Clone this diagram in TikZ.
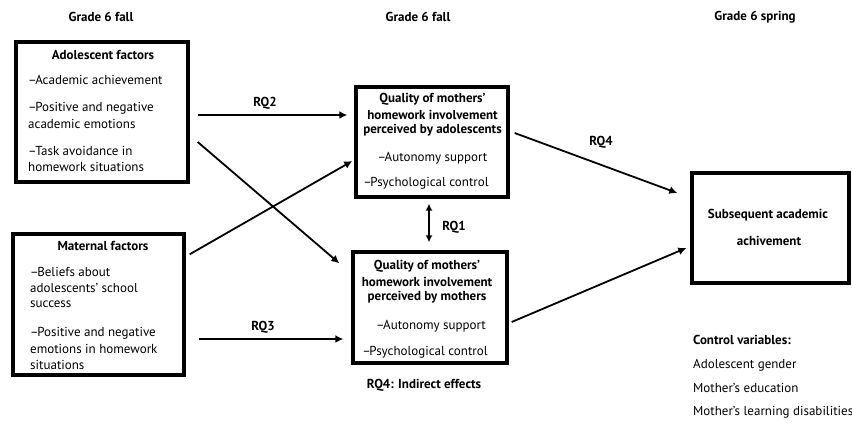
\documentclass[tikz,border=0pt]{standalone}
\usepackage{fontspec}
\setmainfont{PT Sans}
\usetikzlibrary{arrows.meta,calc}
\newcommand{\dsh}{–\kern-1.5pt}
\begin{document}
\begin{tikzpicture}[x=1pt,y=-1pt,
  box/.style={draw, line width=3.4pt, inner sep=0pt},
  conn/.style={line width=1.8pt, -{Latex[length=8pt,width=8pt]}},
  dconn/.style={line width=1.8pt, {Latex[length=7pt,width=7pt]}-{Latex[length=7pt,width=7pt]}},
  hd/.style={font=\fontsize{13}{15}\selectfont\bfseries, inner sep=0pt},
  tt/.style={font=\fontsize{13}{15}\selectfont\bfseries, inner sep=0pt},
  tx/.style={font=\fontsize{13}{15}\selectfont, inner sep=0pt},
  lb/.style={font=\fontsize{13}{15}\selectfont\bfseries, inner sep=0pt}]
\useasboundingbox (0,0) rectangle (852,425);
% headers
\node[hd] (h1) at (101,17) {Grade 6 fall};
\node[hd] (h2) at (418,17) {Grade 6 fall};
\node[hd] (h3) at (755,17) {Grade 6 spring};
% boxes
\node[box, minimum width=172pt, minimum height=140pt] (adol) at (102,112) {};
\node[box, minimum width=171pt, minimum height=141pt] (mat) at (98.5,304.5) {};
\node[box, minimum width=152pt, minimum height=110pt] (qa) at (432,142) {};
\node[box, minimum width=154pt, minimum height=111pt] (qm) at (430,307.5) {};
\node[box, minimum width=157pt, minimum height=110pt] (sub) at (770.5,228) {};
% box 1 text
\node[tt] (a0) at (103,55) {Adolescent factors};
\node[tx,anchor=west] (a1) at (28,80) {\dsh Academic achievement};
\node[tx,anchor=west] (a2) at (28,108) {\dsh Positive and negative};
\node[tx,anchor=west] (a3) at (28,124) {academic emotions};
\node[tx,anchor=west] (a4) at (28,151) {\dsh Task avoidance in};
\node[tx,anchor=west] (a5) at (28,167) {homework situations};
% box 2 text
\node[tt] (m0) at (103,246) {Maternal factors};
\node[tx,anchor=west] (m1) at (30,272) {\dsh Beliefs about};
\node[tx,anchor=west] (m2) at (30,288) {adolescents’ school};
\node[tx,anchor=west] (m3) at (30,304) {success};
\node[tx,anchor=west] (m4) at (30,333) {\dsh Positive and negative};
\node[tx,anchor=west] (m5) at (30,349) {emotions in homework};
\node[tx,anchor=west] (m6) at (30,365) {situations};
% box 3 text
\node[tt] (q1) at (432.5,99) {Quality of mothers’};
\node[tt] (q2) at (432.5,114.5) {homework involvement};
\node[tt] (q3) at (432.5,130) {perceived by adolescents};
\node[tx] (q4) at (432.5,158) {\dsh Autonomy support};
\node[tx] (q5) at (426,183) {\dsh Psychological control};
% box 4 text
\node[tt] (r1) at (427,266) {Quality of mothers’};
\node[tt] (r2) at (427,281.5) {homework involvement};
\node[tt] (r3) at (427,297) {perceived by mothers};
\node[tx] (r4) at (431,326) {\dsh Autonomy support};
\node[tx] (r5) at (425,352) {\dsh Psychological control};
\node[lb] (ind) at (424,385) {RQ4: Indirect effects};
% box 5 text
\node[tt] (s1) at (768,215) {Subsequent academic};
\node[tt] (s2) at (769,241) {achivement};
% control variables
\node[tt,anchor=west] (c0) at (693,340) {Control variables:};
\node[tx,anchor=west] (c1) at (693,365) {Adolescent gender};
\node[tx,anchor=west] (c2) at (693,388) {Mother’s education};
\node[tx,anchor=west] (c3) at (693,412) {Mother’s learning disabilities};
% connector endpoints
\coordinate (p1s) at ($(adol.east)+(8,3)$);
\coordinate (p1e) at ($(qa.west)+(-7,-27)$);
\coordinate (p2s) at ($(adol.east)+(8,30)$);
\coordinate (p2e) at ($(qm.north west)+(-12,13)$);
\coordinate (p3s) at ($(mat.north east)+(4,22)$);
\coordinate (p3e) at ($(qa.west)+(-2,19)$);
\coordinate (p4s) at ($(mat.east)+(13,34.5)$);
\coordinate (p4e) at ($(qm.west)+(-8,31.5)$);
\coordinate (p5s) at ($(qa.east)+(5,-9)$);
\coordinate (p5e) at ($(sub.west)+(-13,-35)$);
\coordinate (p6s) at ($(qm.east)+(3,14.5)$);
\coordinate (p6e) at ($(sub.west)+(-4,20)$);
\coordinate (p7s) at ($(qa.south)+(-3,5)$);
\coordinate (p7e) at ($(qm.north)+(-1,-8)$);
% connectors
\draw[conn] (p1s) -- (p1e);
\draw[conn] (p2s) -- (p2e);
\draw[conn] (p3s) -- (p3e);
\draw[conn] (p4s) -- (p4e);
\draw[conn] (p5s) -- (p5e);
\draw[conn] (p6s) -- (p6e);
\draw[dconn] (p7s) -- (p7e);
% labels
\node[lb] (l2) at (265,103) {RQ2};
\node[lb] (l3) at (263,327) {RQ3};
\node[lb] (l4) at (601,142) {RQ4};
\node[lb] (l1) at (454,227) {RQ1};
\end{tikzpicture}
\end{document}
